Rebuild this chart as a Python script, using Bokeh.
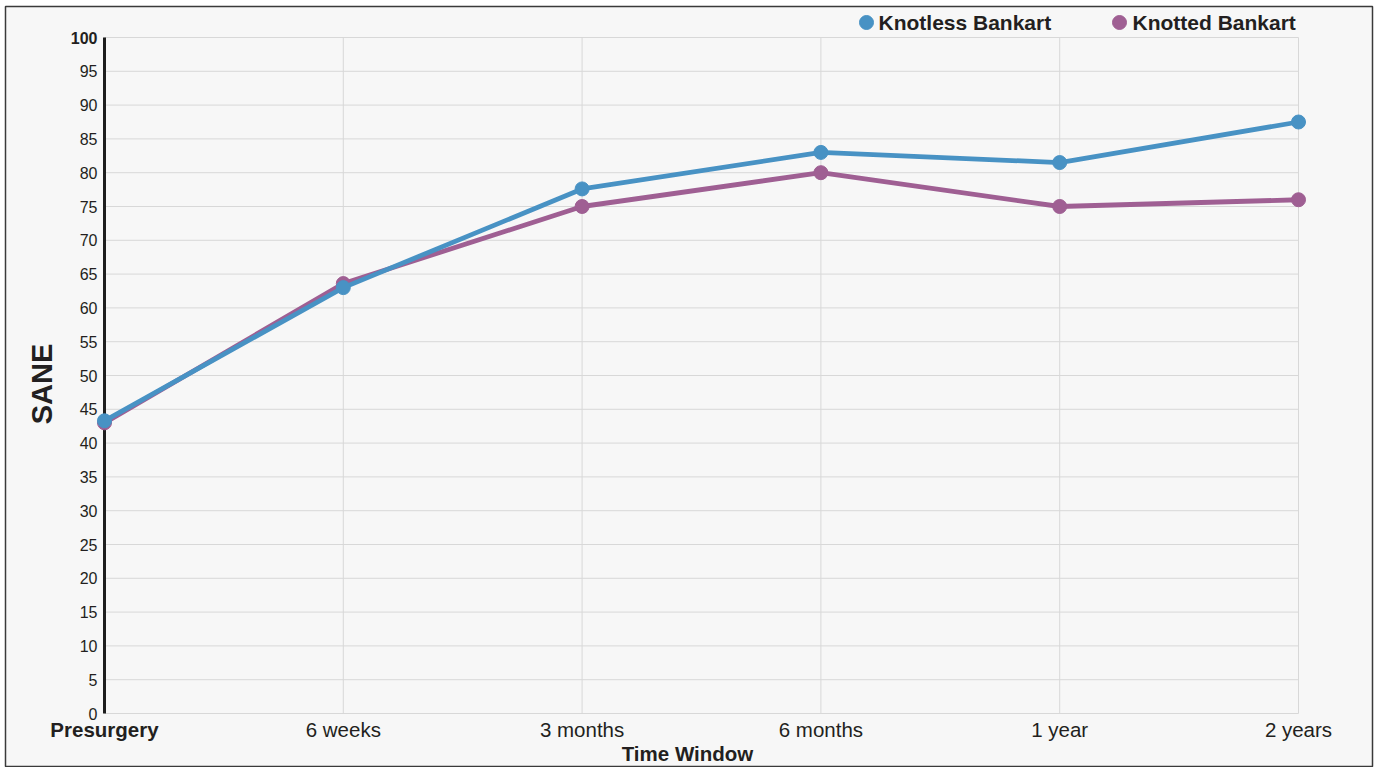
from bokeh.plotting import figure
from bokeh.models import Range1d, FixedTicker, ColumnDataSource
from bokeh.core.properties import value
from bokeh.embed import file_html
from bokeh.resources import INLINE

# ---- data ----
time_windows = ["Presurgery", "6 weeks", "3 months", "6 months", "1 year", "2 years"]
knotless = [43.3, 63.0, 77.6, 83.0, 81.5, 87.5]
knotted = [43.0, 63.6, 75.0, 80.0, 75.0, 76.0]
y_ticks = list(range(0, 101, 5))
series_names = ["Knotless Bankart", "Knotted Bankart"]

FONT = "Liberation Sans"
TXT = "#231f20"
GRID = "#d8d8d8"
BLUE = "#4892c4"
PURPLE = "#9f5f93"

x_idx = list(range(len(time_windows)))
X_MIN, X_MAX = 0, len(time_windows) - 1
Y_MIN, Y_MAX = 0, 100

# ---- layout (page pixels) ----
OFF_X, OFF_Y = 0, 0          # canvas position on page
W, H = 1374, 767
PX_L, PX_R = 104, 1298       # page x of X_MIN / X_MAX
PY_B, PY_T = 713, 37         # page y of Y_MIN / Y_MAX
BOX = (5, 1372, 6, 766)      # outer chart box: left, right, top, bottom
sxu = (PX_R - PX_L) / (X_MAX - X_MIN)
syu = (PY_B - PY_T) / (Y_MAX - Y_MIN)


def dx(px):
    return X_MIN + (px - PX_L) / sxu


def dy(py):
    return Y_MIN + (PY_B - py) / syu


p = figure(width=W, height=H, output_backend="svg", toolbar_location=None,
           x_range=Range1d(dx(OFF_X), dx(OFF_X + W)),
           y_range=Range1d(dy(OFF_Y + H), dy(OFF_Y)),
           min_border=0, min_border_left=0, min_border_right=0,
           min_border_top=0, min_border_bottom=0)
p.background_fill_color = "white"
p.border_fill_color = "white"
p.outline_line_color = None
p.grid.visible = False

# chart box
p.quad(left=[dx(BOX[0])], right=[dx(BOX[1])], top=[dy(BOX[2])], bottom=[dy(BOX[3])],
       fill_color="#f7f7f7", line_color="#3a3a3a", line_width=1.5)

# grid lines
hsrc = ColumnDataSource(dict(x0=[X_MIN] * len(y_ticks), x1=[X_MAX] * len(y_ticks), y=y_ticks))
p.segment(x0="x0", x1="x1", y0="y", y1="y", source=hsrc, line_color=GRID, line_width=1)
vsrc = ColumnDataSource(dict(x=x_idx, y0=[Y_MIN] * len(x_idx), y1=[Y_MAX] * len(x_idx)))
p.segment(x0="x", x1="x", y0="y0", y1="y1", source=vsrc, line_color=GRID, line_width=1)
# left axis line
p.segment(x0=[X_MIN], x1=[X_MIN], y0=[Y_MIN], y1=[Y_MAX], line_color="#1e1e1e", line_width=3)

# data
p.line(x_idx, knotted, line_color=PURPLE, line_width=4.8)
p.scatter(x_idx, knotted, size=14, fill_color=PURPLE, line_color=PURPLE)
p.line(x_idx, knotless, line_color=BLUE, line_width=4.8)
p.scatter(x_idx, knotless, size=14, fill_color=BLUE, line_color=BLUE)

# y axis (fixed inside the frame)
ya = p.yaxis[0]
ya.fixed_location = X_MIN
ya.ticker = FixedTicker(ticks=y_ticks)
ya.major_label_overrides = {Y_MAX: ""}
ya.axis_line_color = None
ya.major_tick_line_color = None
ya.minor_tick_line_color = None
ya.major_tick_out = 0
ya.major_tick_in = 0
ya.major_label_standoff = 7
ya.major_label_text_font = FONT
ya.major_label_text_font_size = "16px"
ya.major_label_text_color = TXT
ya.axis_label = "SANE"
ya.axis_label_text_font = FONT
ya.axis_label_text_font_size = "29px"
ya.axis_label_text_font_style = "bold"
ya.axis_label_text_color = TXT
ya.axis_label_standoff = 19

# x axis (fixed inside the frame)
xa = p.xaxis[0]
xa.fixed_location = Y_MIN
xa.ticker = FixedTicker(ticks=x_idx)
ov = {i: t for i, t in enumerate(time_windows)}
ov[X_MIN] = ""
xa.major_label_overrides = ov
xa.axis_line_color = None
xa.major_tick_line_color = None
xa.minor_tick_line_color = None
xa.major_tick_out = 0
xa.major_tick_in = 0
xa.major_label_standoff = 4
xa.major_label_text_font = FONT
xa.major_label_text_font_size = "20.5px"
xa.major_label_text_color = TXT
xa.axis_label = "Time Window"
xa.axis_label_text_font = FONT
xa.axis_label_text_font_size = "20.5px"
xa.axis_label_text_font_style = "bold"
xa.axis_label_text_color = TXT
xa.axis_label_standoff = -2

# bold tick labels
p.text(x=[X_MIN], y=[Y_MIN], text=[time_windows[0]], text_font=value(FONT),
       text_font_size="20.5px", text_font_style="bold", text_color=TXT,
       text_align="center", text_baseline="top", y_offset=4)
p.text(x=[X_MIN], y=[Y_MAX], text=[str(Y_MAX)], text_font=value(FONT),
       text_font_size="16px", text_font_style="bold", text_color=TXT,
       text_align="right", text_baseline="middle", x_offset=-7)

# legend (drawn above the plot area)
leg_y = dy(22)
leg_dot_x = [dx(866), dx(1119)]
leg_txt_x = [dx(878), dx(1132)]
p.scatter(leg_dot_x, [leg_y, leg_y], size=14, fill_color=[BLUE, PURPLE],
          line_color=[BLUE, PURPLE])
p.text(x=leg_txt_x, y=[leg_y, leg_y], text=series_names, text_font=value(FONT),
       text_font_size="21px", text_font_style="bold", text_color=TXT,
       text_align="left", text_baseline="middle")

open("out.html", "w").write(file_html(p, INLINE))
